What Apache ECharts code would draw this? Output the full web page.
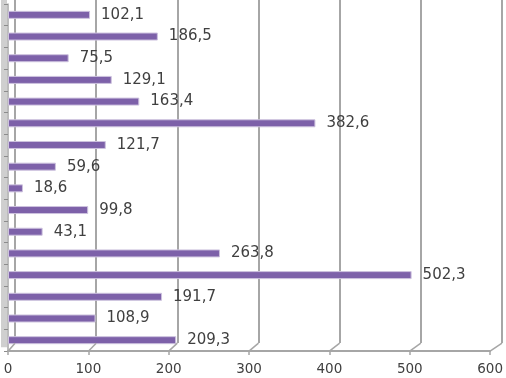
<!DOCTYPE html>
<html><head><meta charset="utf-8">
<script src="https://cdn.jsdelivr.net/npm/echarts@6/dist/echarts.min.js"></script>
<style>html,body{margin:0;padding:0;background:#fff}#c{width:506px;height:378px}</style>
</head><body><div id="c"></div>
<script>
const categories = ['1','2','3','4','5','6','7','8','9','10','11','12','13','14','15','16'];
const values = [102.1, 186.5, 75.5, 129.1, 163.4, 382.6, 121.7, 59.6, 18.6, 99.8, 43.1, 263.8, 502.3, 191.7, 108.9, 209.3];
const tickValues = [0, 100, 200, 300, 400, 500, 600];

const chart = echarts.init(document.getElementById('c'), null, {renderer: 'canvas'});
const font = 'DejaVu Sans';
chart.setOption({
  animation: false,
  backgroundColor: '#fff',
  grid: [
    {left: 15, right: 4, top: 0, bottom: 35},
    {left: 8, right: 8, top: 4, bottom: 27}
  ],
  xAxis: [
    {gridIndex: 0, type: 'value', min: 0, max: 600, interval: 100,
     axisLine: {show: false}, axisTick: {show: false}, axisLabel: {show: false},
     splitLine: {show: true, lineStyle: {color: '#a6a6a6', width: 2}}},
    {gridIndex: 1, type: 'value', min: 0, max: 600, interval: 100,
     axisLine: {show: true, lineStyle: {color: '#a6a6a6', width: 2}},
     axisTick: {show: true, length: 4, lineStyle: {color: '#a6a6a6', width: 1.5}},
     axisLabel: {show: true, color: '#404040', fontFamily: font, fontSize: 13.5, margin: 11},
     splitLine: {show: false}}
  ],
  yAxis: [
    {gridIndex: 0, type: 'category', data: categories, inverse: true, show: false},
    {gridIndex: 1, type: 'category', data: categories, inverse: true,
     axisLine: {show: true, lineStyle: {color: '#a6a6a6', width: 1.5}},
     axisTick: {show: true, length: 4, lineStyle: {color: '#8c8c8c'}},
     axisLabel: {show: false}, splitLine: {show: false}}
  ],
  series: [{
    type: 'bar', xAxisIndex: 1, yAxisIndex: 1, data: values, barWidth: 8,
    itemStyle: {color: '#7d61a9', borderColor: '#cdc2de', borderWidth: 1},
    label: {show: true, position: 'right', distance: 11, color: '#404040', fontFamily: font, fontSize: 15,
      formatter: p => p.value.toFixed(1).replace('.', ',')}
  }]
});

// decorative 3D floor connectors and left wall
const yFront = chart.convertToPixel({yAxisIndex: 1}, categories[categories.length - 1]) + 11;
const yBack = yFront - 8;
const graphics = [{type: 'rect', shape: {x: 1, y: 0, width: 6, height: yBack + 4}, style: {fill: '#cfcfcf'}, z: -1}];
tickValues.forEach(v => {
  const xf = chart.convertToPixel({xAxisIndex: 1}, v);
  const xb = chart.convertToPixel({xAxisIndex: 0}, v);
  graphics.push({type: 'line', shape: {x1: xf, y1: yFront, x2: xb, y2: yBack},
    style: {stroke: '#a6a6a6', lineWidth: 1.5}, z: 5});
});
chart.setOption({graphic: graphics});
</script></body></html>
